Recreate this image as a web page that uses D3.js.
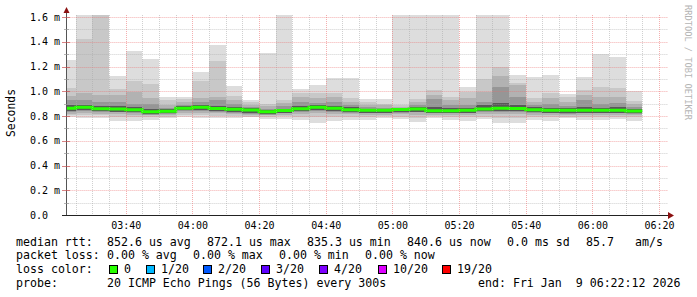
<!DOCTYPE html>
<html>
<head>
<meta charset="utf-8">
<script src="https://cdn.jsdelivr.net/npm/d3@7"></script>
<style>
body { margin: 0; background: #fff; }
svg text { font-family: "DejaVu Sans Mono", monospace; white-space: pre; }
</style>
</head>
<body>
<div id="main"></div>
<script>
// ===========================Data=======================
// 5 minute steps, edges of every bin (the first bin is cut by the graph start)
var binEdges = ['03:20','03:25','03:30','03:35','03:40','03:45','03:50','03:55',
	'04:00','04:05','04:10','04:15','04:20','04:25','04:30','04:35',
	'04:40','04:45','04:50','04:55','05:00','05:05','05:10','05:15',
	'05:20','05:25','05:30','05:35','05:40','05:45','05:50','05:55',
	'06:00','06:05','06:10','06:15'];
var graphStart = '03:22:12';
var graphEnd = '06:22:12';

// rtt in ms, sorted pings grouped into smoke levels (outer -> inner)
var maxRtt = [1.252,1.70,1.75,1.123,1.325,1.261,0.951,0.956,1.158,1.374,1.042,0.929,1.312,1.75,1.018,1.050,1.110,1.110,0.935,0.935,1.75,1.75,1.75,1.75,1.032,1.75,1.75,1.131,1.113,1.131,0.975,1.113,1.298,1.279,1.002];
var hi2 = [1.024,1.422,1.66,1.018,1.083,1.059,0.929,0.935,1.085,1.244,0.962,0.910,0.900,0.929,0.983,0.983,0.988,0.943,0.910,0.900,0.889,0.935,1.010,0.956,0.997,1.096,1.200,1.069,0.943,0.983,0.951,1.010,1.032,1.024,0.921];
var hi3 = [0.962,0.983,0.970,0.970,0.997,0.943,0.889,0.916,0.943,0.956,0.930,0.889,0.880,0.907,0.951,0.943,0.951,0.916,0.889,0.885,0.875,0.913,0.970,0.929,0.943,0.997,1.123,1.050,0.916,0.943,0.916,0.970,0.951,0.951,0.895];
var hi4 = [0.929,0.930,0.916,0.916,0.900,0.900,0.865,0.890,0.916,0.929,0.894,0.870,0.860,0.880,0.916,0.907,0.916,0.890,0.870,0.868,0.865,0.889,0.935,0.890,0.889,0.916,1.035,0.951,0.890,0.900,0.880,0.929,0.900,0.907,0.870];
var hi5 = [0.885,0.892,0.880,0.878,0.875,0.856,0.855,0.880,0.890,0.882,0.875,0.862,0.848,0.860,0.880,0.890,0.882,0.870,0.860,0.858,0.860,0.872,0.870,0.865,0.866,0.885,0.905,0.890,0.870,0.868,0.862,0.870,0.868,0.870,0.858];
var medianRtt = [0.862,0.870,0.859,0.857,0.851,0.835,0.839,0.863,0.870,0.861,0.855,0.848,0.835,0.844,0.858,0.871,0.862,0.851,0.847,0.846,0.853,0.857,0.843,0.843,0.846,0.857,0.862,0.861,0.850,0.846,0.846,0.846,0.846,0.846,0.841];
var lo5 = [0.840,0.848,0.838,0.836,0.830,0.818,0.826,0.845,0.850,0.842,0.834,0.826,0.820,0.828,0.840,0.850,0.842,0.832,0.828,0.828,0.834,0.836,0.828,0.828,0.828,0.838,0.842,0.840,0.832,0.828,0.822,0.828,0.828,0.828,0.824];
var lo4 = [0.832,0.840,0.832,0.830,0.824,0.812,0.820,0.838,0.842,0.835,0.827,0.814,0.812,0.822,0.832,0.842,0.835,0.827,0.822,0.822,0.827,0.829,0.822,0.822,0.822,0.832,0.835,0.832,0.825,0.822,0.813,0.822,0.822,0.822,0.819];
var lo3 = [0.820,0.825,0.820,0.815,0.812,0.805,0.810,0.825,0.828,0.822,0.815,0.805,0.805,0.812,0.815,0.825,0.820,0.815,0.810,0.812,0.815,0.812,0.812,0.810,0.810,0.815,0.815,0.815,0.812,0.810,0.805,0.810,0.810,0.810,0.808];
var lo2 = [0.805,0.808,0.805,0.790,0.788,0.790,0.795,0.810,0.810,0.800,0.798,0.795,0.792,0.798,0.790,0.790,0.795,0.795,0.792,0.798,0.795,0.785,0.798,0.790,0.790,0.792,0.785,0.785,0.792,0.790,0.792,0.790,0.790,0.792,0.788];
var minRtt = [0.789,0.781,0.781,0.760,0.760,0.768,0.781,0.795,0.781,0.781,0.781,0.789,0.776,0.776,0.768,0.746,0.760,0.768,0.768,0.781,0.773,0.754,0.781,0.768,0.762,0.773,0.741,0.741,0.768,0.762,0.781,0.768,0.768,0.773,0.762];

// axis labels
var xTicks = ['03:40','04:00','04:20','04:40','05:00','05:20','05:40','06:00','06:20'];
var yTicks = [0, 0.2, 0.4, 0.6, 0.8, 1.0, 1.2, 1.4, 1.6];
var yMinorTicks = [0.1, 0.3, 0.5, 0.7, 0.9, 1.1, 1.3, 1.5];

// legend texts
var rttStats = ['852.6 us avg', '872.1 us max', '835.3 us min', '840.6 us now', '0.0 ms sd', '85.7', 'am/s'];
var lossStats = ['0.00 % avg', '0.00 % max', '0.00 % min', '0.00 % now'];
var lossLabels = ['0', '1/20', '2/20', '3/20', '4/20', '10/20', '19/20'];
var lossColors = ['#26ff00', '#00b8ff', '#0059ff', '#5e00ff', '#7e00ff', '#dd00ff', '#ff0000'];
var probeText = '20 ICMP Echo Pings (56 Bytes) every 300s';
var endText = 'end: Fri Jan  9 06:22:12 2026';

// ===========================Layout=======================
const svgResolution = { "width": 697, "height": 297 };
const plot = { left: 66.4, right: 666.4, top: 15, bottom: 215 };
const yMax = 1.6162;

var parseTime = d3.timeParse('%H:%M:%S');
function t(s) { return parseTime(s.length == 5 ? s + ':00' : s); }
function crisp(v) { return Math.round(v) + 0.5; }

const svg = d3.select('#main').append('svg')
	.attr('width', svgResolution.width)
	.attr('height', svgResolution.height);

svg.append('rect').attr('width', svgResolution.width).attr('height', svgResolution.height).style('fill', '#fff');

var x = d3.scaleTime()
	.domain([t(graphStart), t(graphEnd)])
	.range([plot.left, plot.right]);
var y = d3.scaleLinear()
	.domain([0, yMax])
	.range([plot.bottom, plot.top]);

svg.append('clipPath').attr('id', 'plotclip')
	.append('rect')
	.attr('x', plot.left).attr('y', plot.top)
	.attr('width', plot.right - plot.left).attr('height', plot.bottom - plot.top);

// ===========================Smoke=======================
var bands = [
	{ lo: minRtt, hi: maxRtt, color: '#dddddd' },
	{ lo: lo2, hi: hi2, color: '#c8c8c8' },
	{ lo: lo3, hi: hi3, color: '#b2b2b2' },
	{ lo: lo4, hi: hi4, color: '#969696' },
	{ lo: lo5, hi: hi5, color: '#585858' }
];
var bins = d3.range(medianRtt.length);
var binX0 = i => Math.max(x(t(binEdges[i])), plot.left);
var binX1 = i => x(t(binEdges[i + 1]));

var smoke = svg.append('g').attr('clip-path', 'url(#plotclip)');
bands.forEach(function(b){
	smoke.append('g').selectAll('rect')
		.data(bins)
		.enter()
		.append('rect')
		.attr('x', i => binX0(i))
		.attr('width', i => binX1(i) - binX0(i))
		.attr('y', i => y(b.hi[i]))
		.attr('height', i => y(b.lo[i]) - y(b.hi[i]))
		.attr('shape-rendering', 'crispEdges')
		.style('fill', b.color);
});

// median line, coloured by loss (all 0 loss here)
var medianPts = binEdges.map((e, i) => [Math.max(x(t(e)), plot.left), medianRtt[Math.min(i, medianRtt.length - 1)]]);
smoke.append('path')
	.datum(medianPts)
	.attr('d', d3.line().x(d => d[0]).y(d => y(d[1])).curve(d3.curveStepAfter))
	.style('fill', 'none')
	.style('stroke', lossColors[0])
	.style('stroke-width', 3);

// ===========================Grid=======================
var grid = svg.append('g');
var majorTimes = xTicks.map(t);
var minorTimes = d3.timeMinute.every(5).range(t(graphStart), t(graphEnd))
	.filter(d => d.getMinutes() % 20 != 0);

function vLines(times, color) {
	grid.append('g').selectAll('line').data(times).enter().append('line')
		.attr('x1', d => crisp(x(d))).attr('x2', d => crisp(x(d)))
		.attr('y1', plot.top).attr('y2', plot.bottom)
		.style('stroke', color).style('stroke-dasharray', '1,1');
}
function hLines(vals, color) {
	grid.append('g').selectAll('line').data(vals).enter().append('line')
		.attr('x1', plot.left).attr('x2', plot.right + 1)
		.attr('y1', d => crisp(y(d))).attr('y2', d => crisp(y(d)))
		.style('stroke', color).style('stroke-dasharray', '1,1');
}
vLines(minorTimes, 'rgba(170,170,170,0.55)');
hLines(yMinorTicks, 'rgba(170,170,170,0.55)');
vLines(majorTimes, 'rgba(235,110,110,0.55)');
hLines(yTicks.slice(1), 'rgba(235,110,110,0.55)');

// ===========================Axes=======================
var axisX = crisp(plot.left - 0.5);
svg.append('line').attr('x1', axisX).attr('x2', axisX).attr('y1', plot.bottom).attr('y2', 12)
	.style('stroke', '#555');
svg.append('line').attr('x1', 62).attr('x2', 669).attr('y1', crisp(plot.bottom)).attr('y2', crisp(plot.bottom))
	.style('stroke', '#222');
svg.append('path').attr('d', 'M63.5,13L69.5,13L66.5,7Z').style('fill', '#8b1010');
svg.append('path').attr('d', 'M668,212L668,219L674,215.5Z').style('fill', '#8b1010');

// small ticks on the y axis
svg.append('g').selectAll('line').data(yTicks).enter().append('line')
	.attr('x1', 62).attr('x2', 70)
	.attr('y1', d => crisp(y(d))).attr('y2', d => crisp(y(d)))
	.style('stroke', d => d == 0 ? '#222' : 'rgba(200,80,80,0.7)');
svg.append('g').selectAll('line').data(yMinorTicks).enter().append('line')
	.attr('x1', 64).attr('x2', 69)
	.attr('y1', d => crisp(y(d))).attr('y2', d => crisp(y(d)))
	.style('stroke', 'rgba(150,150,150,0.7)');

// tick labels
svg.append('g').selectAll('text').data(yTicks).enter().append('text')
	.attr('x', 30).attr('y', d => y(d) + 3.6)
	.style('font-size', '10px').style('fill', '#000')
	.text(d => d == 0 ? '0.0' : d3.format('.1f')(d) + ' m');
svg.append('g').selectAll('text').data(xTicks).enter().append('text')
	.attr('x', d => x(t(d)) + 0.5).attr('y', 228.5)
	.attr('text-anchor', 'middle')
	.style('font-size', '10px').style('fill', '#000')
	.text(d => d);

svg.append('text')
	.attr('transform', 'translate(15,113) rotate(-90)')
	.attr('text-anchor', 'middle')
	.style('font-size', '11.4px').style('fill', '#000')
	.text('Seconds');

svg.append('text')
	.attr('transform', 'translate(685,5) rotate(90)')
	.style('font-size', '8.7px').style('fill', '#b4b4b4')
	.text('RRDTOOL / TOBI OETIKER');

// ===========================Legend=======================
var legendSize = '11.6px';
var rowY = [245.5, 259.2, 272.9, 286.6];
function legendText(px, py, s) {
	svg.append('text').attr('x', px).attr('y', py)
		.style('font-size', legendSize).style('fill', '#000')
		.text(s);
}
legendText(16, rowY[0], 'median rtt:');
var rttX = [107, 207, 307, 407, 507, 586, 635];
rttStats.forEach((s, i) => legendText(rttX[i], rowY[0], s));

legendText(16, rowY[1], 'packet loss:');
var lossX = [107, 193, 279, 365];
lossStats.forEach((s, i) => legendText(lossX[i], rowY[1], s));

legendText(16, rowY[2], 'loss color:');
var boxX = [109, 146, 203, 261, 319, 378, 442];
svg.append('g').selectAll('rect').data(lossLabels).enter().append('rect')
	.attr('x', (d, i) => boxX[i] + 0.5).attr('y', 265.5)
	.attr('width', 8).attr('height', 8)
	.style('fill', (d, i) => lossColors[i])
	.style('stroke', '#000');
lossLabels.forEach((s, i) => legendText(boxX[i] + 15, rowY[2], s));

legendText(16, rowY[3], 'probe:');
legendText(107, rowY[3], probeText);
legendText(478, rowY[3], endText);
</script>
</body>
</html>
